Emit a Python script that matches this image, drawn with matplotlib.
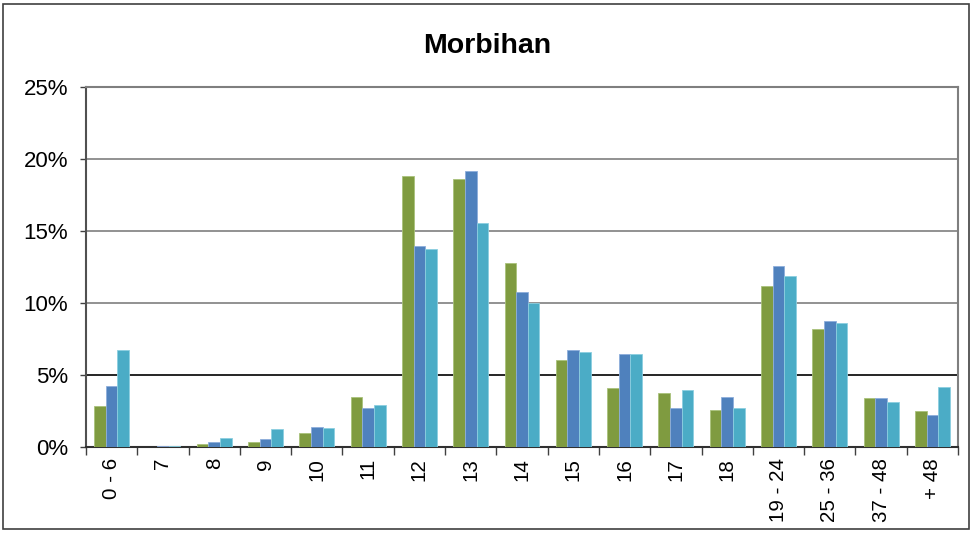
import matplotlib
matplotlib.use("Agg")
import matplotlib.pyplot as plt
from matplotlib.patches import Rectangle
from matplotlib.ticker import FuncFormatter, FixedLocator
import numpy as np

plt.rcParams['font.family'] = ['Liberation Sans', 'DejaVu Sans']

categories = ["0 - 6", "7", "8", "9", "10", "11", "12", "13", "14", "15",
              "16", "17", "18", "19 - 24", "25 - 36", "37 - 48", "+ 48"]

serie_vert = [2.85, 0.02, 0.20, 0.32, 1.00, 3.47, 18.8, 18.6, 12.78, 6.02,
              4.07, 3.72, 2.60, 11.15, 8.17, 3.38, 2.48]
serie_bleu = [4.24, 0.05, 0.35, 0.55, 1.40, 2.70, 13.96, 19.2, 10.74, 6.76,
              6.48, 2.70, 3.47, 12.57, 8.77, 3.38, 2.25]
serie_cyan = [6.70, 0.05, 0.62, 1.25, 1.32, 2.90, 13.75, 15.55, 9.98, 6.60,
              6.48, 3.96, 2.70, 11.87, 8.60, 3.13, 4.19]

couleurs = ["#7f9b40", "#4f81bd", "#4bacc6"]
bords = ["#a9c27a", "#8eaedb", "#8ccfe0"]

fig = plt.figure(figsize=(9.75, 5.33), dpi=100)
ax = fig.add_axes([0.0882, 0.1614, 0.8944, 0.6754])

x = np.arange(len(categories))
w = 0.227
for i, serie in enumerate([serie_vert, serie_bleu, serie_cyan]):
    ax.bar(x + (i - 1) * w, serie, width=w, color=couleurs[i],
           edgecolor=bords[i], linewidth=0.6, zorder=3)

ax.set_xlim(-0.5, len(categories) - 0.5)
ax.set_ylim(0, 25)

# grille horizontale
for v in [5, 10, 15, 20, 25]:
    ax.axhline(v, color="black" if v == 5 else "#7f7f7f", lw=1.2, zorder=1)

ax.set_yticks([0, 5, 10, 15, 20, 25])
ax.yaxis.set_major_formatter(FuncFormatter(lambda v, p: "%d%%" % v))
ax.tick_params(axis="y", labelsize=16, length=4, width=1, color="#404040", pad=9)

ax.set_xticks(x)
ax.set_xticklabels(categories, rotation=90, fontsize=14.8)
ax.tick_params(axis="x", length=0, pad=8)
ax.xaxis.set_minor_locator(FixedLocator(np.arange(-0.5, len(categories), 1)))
ax.tick_params(axis="x", which="minor", length=6, width=1, color="#404040")

for s in ["top", "right"]:
    ax.spines[s].set_color("#7f7f7f")
    ax.spines[s].set_linewidth(1.5)
ax.spines["left"].set_color("#505050")
ax.spines["left"].set_linewidth(1.5)
ax.spines["bottom"].set_color("#303030")
ax.spines["bottom"].set_linewidth(1.5)

fig.text(0.5, 0.914, "Morbihan", ha="center", va="center",
         fontsize=20.5, fontweight="bold")

# cadre autour du graphique
fig.patches.append(Rectangle((3 / 975, 4 / 533), 966 / 975, 525 / 533,
                             transform=fig.transFigure, fill=False,
                             edgecolor="#404040", lw=1.2))

fig.savefig("out.png", dpi=100)
